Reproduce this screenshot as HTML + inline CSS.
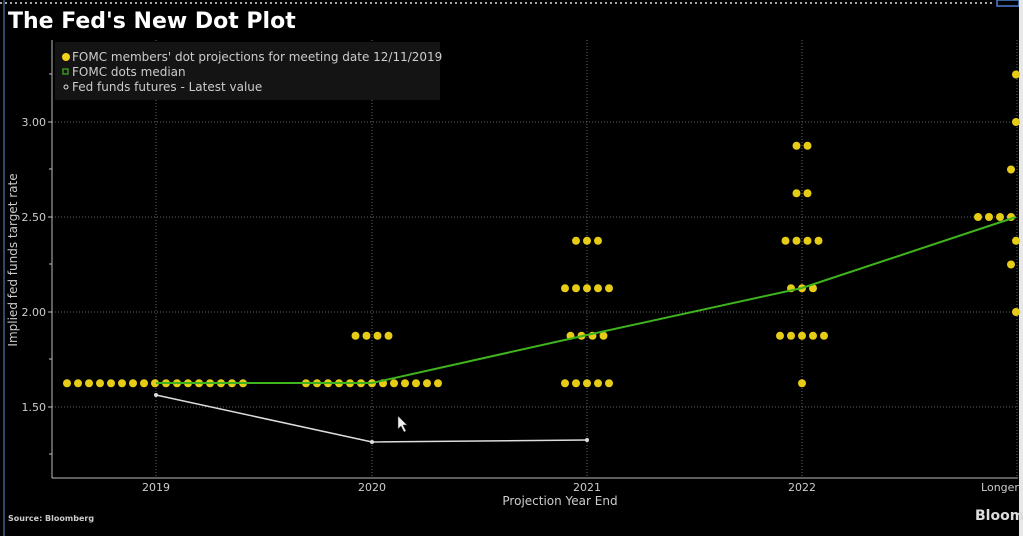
<!DOCTYPE html>
<html><head><meta charset="utf-8"><style>
html,body{margin:0;padding:0;background:#000;}
svg{display:block}
text{font-family:"DejaVu Sans","Liberation Sans",sans-serif;}
</style></head><body>
<svg id="s" width="1023" height="536" viewBox="0 0 1023 536" xmlns="http://www.w3.org/2000/svg">
<rect width="1023" height="536" fill="#000"/>
<line x1="0" y1="3" x2="995" y2="3" stroke="#ddd" stroke-width="1.5" stroke-dasharray="2,3"/>
<rect x="997" y="0" width="22" height="6" fill="none" stroke="#4a7fd0" stroke-width="1.5"/>
<line x1="4" y1="0" x2="4" y2="536" stroke="#5b8ed8" stroke-width="1"/>
<rect x="1019" y="0" width="4" height="536" fill="#e8e8e8"/>
<text x="8" y="28" font-size="22" font-weight="bold" fill="#fff">The Fed's New Dot Plot</text>
<!-- grid -->
<g stroke="#666" stroke-width="1" stroke-dasharray="1,2">
<line x1="52" y1="122" x2="1018" y2="122"/>
<line x1="52" y1="217" x2="1018" y2="217"/>
<line x1="52" y1="312" x2="1018" y2="312"/>
<line x1="52" y1="407" x2="1018" y2="407"/>
<line x1="156" y1="40" x2="156" y2="478"/>
<line x1="372" y1="40" x2="372" y2="478"/>
<line x1="587" y1="40" x2="587" y2="478"/>
<line x1="802" y1="40" x2="802" y2="478"/>
<line x1="1017" y1="40" x2="1017" y2="478"/>
</g>
<rect x="55" y="42" width="385" height="58" fill="#141414"/>
<line x1="52" y1="40" x2="52" y2="478" stroke="#bbb" stroke-width="1"/>
<line x1="52" y1="478" x2="1018" y2="478" stroke="#bbb" stroke-width="1"/>
<g stroke="#bbb"><line x1="48" y1="122" x2="52" y2="122"/><line x1="48" y1="217" x2="52" y2="217"/><line x1="48" y1="312" x2="52" y2="312"/><line x1="48" y1="407" x2="52" y2="407"/>
<line x1="49" y1="74" x2="52" y2="74"/><line x1="49" y1="169" x2="52" y2="169"/><line x1="49" y1="264" x2="52" y2="264"/><line x1="49" y1="359" x2="52" y2="359"/><line x1="49" y1="454" x2="52" y2="454"/></g>
<g font-size="11" fill="#ccc" text-anchor="end">
<text x="46" y="126">3.00</text><text x="46" y="221">2.50</text><text x="46" y="316">2.00</text><text x="46" y="411">1.50</text></g>
<g font-size="11" fill="#ccc" text-anchor="middle">
<text x="156" y="491">2019</text><text x="372" y="491">2020</text><text x="587" y="491">2021</text><text x="802" y="491">2022</text><text x="1000" y="491">Longer</text>
<text x="560" y="505" font-size="12">Projection Year End</text></g>
<text transform="translate(17,260) rotate(-90)" font-size="12" fill="#ccc" text-anchor="middle">Implied fed funds target rate</text>
<text x="8" y="521" font-size="8" font-weight="bold" fill="#ccc">Source: Bloomberg</text>
<text x="975" y="520" font-size="14" font-weight="bold" fill="#ddd">Bloom</text>
<circle cx="66" cy="57" r="4" fill="#f2d21b"/>
<rect x="63" y="69" width="5" height="5" fill="none" stroke="#3aa820" stroke-width="1.3"/>
<circle cx="66" cy="87" r="2" fill="none" stroke="#ddd" stroke-width="1"/>
<g font-size="12" fill="#ccc"><text x="72" y="61">FOMC members' dot projections for meeting date 12/11/2019</text>
<text x="72" y="76">FOMC dots median</text><text x="72" y="91">Fed funds futures - Latest value</text></g>
<g id="dots" fill="#e6cc17"></g>
<polyline points="156,383 372,383 587,335 802,288 1016,217" fill="none" stroke="#3fb41c" stroke-width="2"/>
<polyline points="156,395 372,442 587,440" fill="none" stroke="#ddd" stroke-width="1.5"/>
<g fill="#ddd"><circle cx="156" cy="395" r="2"/><circle cx="372" cy="442" r="2"/><circle cx="587" cy="440" r="2"/></g>
<path d="M398 416 l0 13 l3 -3 l3 6 l2 -1 l-3 -6 l4 0 z" fill="#eee" stroke="#333" stroke-width="0.5"/>
</svg>
<script>
var g=document.getElementById('dots');
function y(v){return 122+(3-v)*190;}
function d(x,v){var c=document.createElementNS('http://www.w3.org/2000/svg','circle');c.setAttribute('cx',x);c.setAttribute('cy',y(v));c.setAttribute('r',4);g.appendChild(c);}
function row(cx,v,n){for(var i=0;i<n;i++)d(cx+(i-(n-1)/2)*11,v);}
for(var i=0;i<17;i++)d(67+i*11,1.625);
row(372,1.875,4);for(var i=0;i<13;i++)d(306+i*11,1.625);
row(587,2.375,3);row(587,2.125,5);row(587,1.875,4);row(587,1.625,5);
row(802,2.875,2);row(802,2.625,2);row(802,2.375,4);row(802,2.125,3);row(802,1.875,5);row(802,1.625,1);
[978,989,1000,1011].forEach(function(x){d(x,2.5)});
d(1016,3.25);d(1016,3.0);d(1011,2.75);d(1016,2.375);d(1011,2.25);d(1016,2.0);
</script>
</body></html>
